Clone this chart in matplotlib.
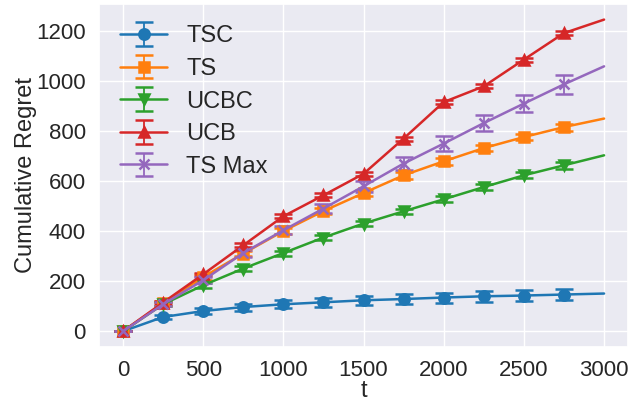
import matplotlib
matplotlib.use("Agg")
import matplotlib.pyplot as plt
import seaborn as sns

sns.set_theme(style="darkgrid")
plt.rcParams['font.family'] = ['Liberation Sans', 'DejaVu Sans']

# pas de temps (marqueurs tous les 250, la courbe va jusqu'a 3000)
t = [0, 250, 500, 750, 1000, 1250, 1500, 1750, 2000, 2250, 2500, 2750, 3000]

tsc = [0, 57, 81, 97, 108, 116, 124, 129, 135, 140, 143, 147, 151]
tsc_err = [0, 9, 12, 14, 16, 17, 18, 19, 20, 21, 22, 23, 0]

ts = [0, 112, 217, 311, 401, 481, 553, 624, 680, 733, 777, 817, 851]
ts_err = [0, 10, 11, 11, 12, 12, 12, 13, 13, 13, 13, 14, 0]

ucbc = [0, 108, 184, 251, 313, 375, 431, 480, 528, 577, 624, 664, 704]
ucbc_err = [0, 8, 9, 10, 10, 11, 11, 11, 12, 12, 12, 13, 0]

ucb = [0, 115, 228, 344, 460, 544, 630, 771, 917, 980, 1087, 1193, 1247]
ucb_err = [0, 7, 7, 8, 8, 8, 8, 8, 8, 8, 8, 8, 0]

tsmax = [0, 108, 204, 313, 404, 491, 580, 671, 751, 833, 911, 988, 1060]
tsmax_err = [0, 8, 12, 14, 16, 19, 22, 25, 29, 32, 33, 38, 0]

series = [
    ("TSC", tsc, tsc_err, "o"),
    ("TS", ts, ts_err, "s"),
    ("UCBC", ucbc, ucbc_err, "v"),
    ("UCB", ucb, ucb_err, "^"),
    ("TS Max", tsmax, tsmax_err, "x"),
]
couleurs = ["tab:blue", "tab:orange", "tab:green", "tab:red", "tab:purple"]

fig, ax = plt.subplots(figsize=(6.3, 4.01), dpi=100)
fig.subplots_adjust(left=0.157, right=0.997, top=0.99, bottom=0.135)

n = len(t) - 1
for (nom, y, err, m), c in zip(series, couleurs):
    ax.errorbar(t, y, yerr=err, marker=m, markersize=7.5, markeredgewidth=1.8,
                color=c, linewidth=1.8, capsize=6.5, elinewidth=1.3,
                capthick=1.3, markevery=list(range(n)),
                errorevery=list(range(n)), label=nom)

ax.set_xlabel("t", fontsize=17, labelpad=-1)
ax.set_ylabel("Cumulative Regret", fontsize=17, labelpad=-1)
ax.tick_params(labelsize=16, pad=3.5)
ax.set_xticks([0, 500, 1000, 1500, 2000, 2500, 3000])
ax.set_yticks([0, 200, 400, 600, 800, 1000, 1200])
ax.legend(fontsize=17, loc="upper left", frameon=False, handlelength=2.0,
          labelspacing=0.45, handletextpad=0.8, borderaxespad=0.5)

fig.savefig("out.png", dpi=100)
